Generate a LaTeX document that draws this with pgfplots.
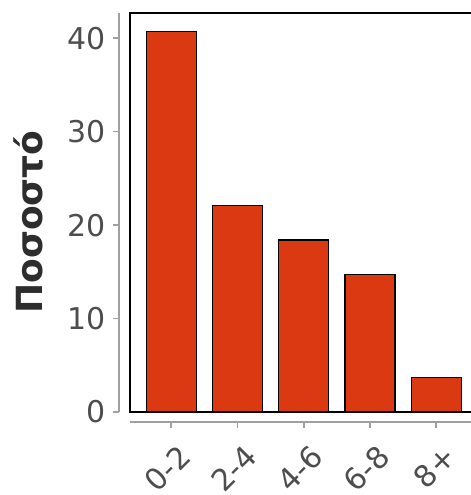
\documentclass[border=0pt]{standalone}
\usepackage{fontspec}
\setmainfont{DejaVu Sans}
\usepackage{pgfplots}
\pgfplotsset{compat=1.18}
\definecolor{barfill}{RGB}{219,57,18}
\definecolor{axgrey}{RGB}{160,160,160}
\definecolor{txtgrey}{RGB}{77,77,77}
\definecolor{labdark}{RGB}{45,45,45}
\begin{document}
\begin{tikzpicture}
\pgfplotsset{common/.style={scale only axis, width=173.7pt, height=199.5pt,
  xmin=-0.62, xmax=4.62, ymin=0, ymax=42.7, anchor=south west,
  /pgf/number format/assume math mode=true}}
\begin{axis}[common, at={(65pt,41.5pt)}, axis line style={black, line width=0.6pt},
  xtick=\empty, ytick=\empty]
\addplot[ybar, bar width=25pt, fill=barfill, draw=black, line width=0.6pt]
  coordinates {(0,40.7) (1,22.1) (2,18.4) (3,14.7) (4,3.7)};
\end{axis}
\begin{axis}[common, at={(59.5pt,41.5pt)}, axis x line=none, axis y line*=left,
  axis line style={axgrey, line width=0.8pt},
  ytick={0,10,20,30,40}, tick style={axgrey, line width=0.8pt},
  tick align=outside, major tick length=3pt,
  yticklabel style={font=\fontsize{15}{15}\selectfont, text=txtgrey}]
\end{axis}
\begin{axis}[common, at={(65pt,36.5pt)}, axis y line=none, axis x line*=bottom,
  axis line style={axgrey, line width=0.8pt},
  xtick={0,1,2,3,4}, xticklabels={0-2,2-4,4-6,6-8,8+},
  tick style={axgrey, line width=0.8pt},
  tick align=outside, major tick length=3pt,
  xticklabel style={xshift=2.9pt, yshift=-5.9pt, rotate=45, anchor=north east,
    inner sep=1pt, font=\fontsize{15}{15}\selectfont, text=txtgrey}]
\end{axis}
\node[rotate=90, font=\bfseries\fontsize{18}{18}\selectfont, text=labdark] at (14pt,136.5pt) {Ποσοστό};
\pgfresetboundingbox
\useasboundingbox (0,0) rectangle (235.5pt,247.5pt);
\end{tikzpicture}
\end{document}
